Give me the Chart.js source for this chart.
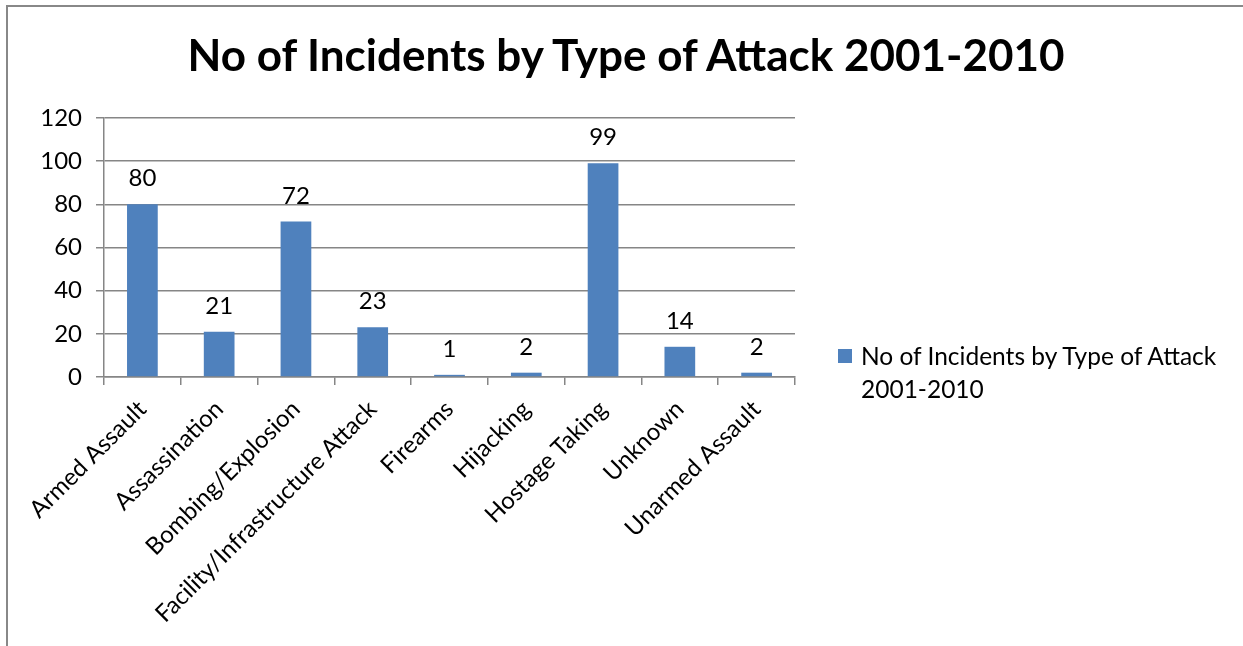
<!DOCTYPE html>
<html>
<head>
<meta charset="utf-8">
<script src="https://cdn.jsdelivr.net/npm/chart.js@4.4.1/dist/chart.umd.min.js"></script>
<style>
  body { margin: 0; background: #fff; }
  #wrap { position: relative; width: 1243px; height: 646px; overflow: hidden; }
  #frame { position: absolute; left: 6px; top: 5px; width: 1300px; height: 700px;
           border-left: 2px solid #888; border-top: 2px solid #888; }
  #title { position: absolute; left: 0; width: 1252px; top: 28px; text-align: center;
           font: bold 44px Lato, sans-serif; color: #000; }
  #legend { position: absolute; left: 838px; top: 339px; font: 24.5px Lato, sans-serif;
            color: #000; line-height: 33px; }
  #legend .box { position: absolute; left: 0; top: 10px; width: 14px; height: 14px; background: #4f81bd; }
  #legend .txt { margin-left: 23px; }
  canvas { position: absolute; left: 0; top: 0; }
</style>
</head>
<body>
<div id="wrap">
  <div id="frame"></div>
  <canvas id="chart" width="1243" height="646"></canvas>
  <div id="title">No of Incidents by Type of Attack 2001-2010</div>
  <div id="legend"><div class="box"></div><div class="txt">No of Incidents by Type of Attack<br>2001-2010</div></div>
</div>
<script>
const categories = [
  'Armed Assault', 'Assassination', 'Bombing/Explosion', 'Facility/Infrastructure Attack',
  'Firearms', 'Hijacking', 'Hostage Taking', 'Unknown', 'Unarmed Assault'
];
const incidents = [80, 21, 72, 23, 1, 2, 99, 14, 2];
const seriesName = 'No of Incidents by Type of Attack 2001-2010';

const gridColor = '#868686';
const fontFamily = 'Lato, sans-serif';

// values written above each bar
const barLabels = {
  id: 'barLabels',
  afterDatasetsDraw(chart) {
    const ctx = chart.ctx;
    const meta = chart.getDatasetMeta(0);
    ctx.save();
    ctx.font = '24px ' + fontFamily;
    ctx.fillStyle = '#000';
    ctx.textAlign = 'center';
    ctx.textBaseline = 'alphabetic';
    meta.data.forEach((bar, i) => {
      ctx.fillText(String(chart.data.datasets[0].data[i]), bar.x, bar.y - 18);
    });
    ctx.restore();
  }
};

new Chart(document.getElementById('chart'), {
  type: 'bar',
  data: {
    labels: categories,
    datasets: [{
      label: seriesName,
      data: incidents,
      backgroundColor: '#4f81bd',
      categoryPercentage: 1,
      barPercentage: 0.4
    }]
  },
  options: {
    responsive: false,
    animation: false,
    devicePixelRatio: 1,
    layout: { padding: { top: 118, left: 0, right: 448, bottom: 0 } },
    plugins: {
      legend: { display: false },
      title: { display: false },
      tooltip: { enabled: false }
    },
    scales: {
      y: {
        min: 0,
        max: 120,
        ticks: { stepSize: 20, color: '#000', font: { family: fontFamily, size: 24 }, padding: 14 },
        grid: { color: gridColor, lineWidth: 1.5, tickLength: 8 },
        border: { color: gridColor, width: 1.5 },
        afterFit(scale) { scale.width = 104; }
      },
      x: {
        ticks: { color: '#000', font: { family: fontFamily, size: 24 }, minRotation: 45, maxRotation: 45, padding: 10 },
        grid: { drawOnChartArea: false, color: gridColor, lineWidth: 1.5, tickLength: 8, offset: true },
        border: { color: gridColor, width: 1.5 },
        afterFit(scale) { scale.height = 269; }
      }
    }
  },
  plugins: [barLabels]
});
</script>
</body>
</html>
